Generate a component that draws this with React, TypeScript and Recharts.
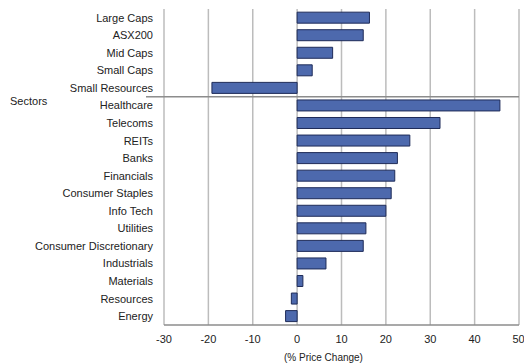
import { BarChart, Bar, XAxis, YAxis, CartesianGrid, ReferenceLine } from "recharts";

const categories = [
  "Large Caps",
  "ASX200",
  "Mid Caps",
  "Small Caps",
  "Small Resources",
  "Healthcare",
  "Telecoms",
  "REITs",
  "Banks",
  "Financials",
  "Consumer Staples",
  "Info Tech",
  "Utilities",
  "Consumer Discretionary",
  "Industrials",
  "Materials",
  "Resources",
  "Energy"
];

const priceChange = [16.3, 14.9, 8.0, 3.4, -19.2, 45.7, 32.2, 25.4, 22.6, 22.0, 21.2, 20.0, 15.5, 14.9, 6.5, 1.3, -1.3, -2.6];

const xTicks = [-30, -20, -10, 0, 10, 20, 30, 40, 50];

const data = categories.map((name, i) => ({ name, value: priceChange[i] }));

const font = "'Liberation Sans', Arial, sans-serif";

function SectorsLabel(props: any) {
  const { viewBox } = props;
  const x = viewBox.x;
  const y = viewBox.y;
  return (
    <g>
      <line x1={x - 18} y1={y} x2={x} y2={y} stroke="#8c8c8c" strokeWidth={1.5} />
      <text x={10} y={y + 8} fontSize={11} fontFamily={font} fill="#222">
        Sectors
      </text>
    </g>
  );
}

export default function App() {
  return (
    <div style={{ position: "absolute", left: 0, top: 0, background: "#fff" }}>
      <BarChart
        width={524}
        height={364}
        data={data}
        layout="vertical"
        margin={{ top: 9, right: 5, bottom: 0, left: 0 }}
        barCategoryGap="18%"
      >
        <CartesianGrid horizontal={false} stroke="#bcbcbc" strokeWidth={1.5} />
        <XAxis
          type="number"
          domain={[-30, 50]}
          ticks={xTicks}
          height={39}
          tickLine={false}
          tickSize={6}
          tickMargin={4}
          axisLine={{ stroke: "#8c8c8c", strokeWidth: 1.5 }}
          tick={{ fontSize: 11, fill: "#222", fontFamily: font }}
          label={{
            value: "(% Price Change)",
            position: "insideBottom",
            offset: 3,
            dx: -18,
            fontSize: 10,
            fill: "#222",
            fontFamily: font
          }}
        />
        <YAxis
          type="category"
          dataKey="name"
          width={164}
          interval={0}
          tickLine={false}
          axisLine={false}
          tickSize={6}
          tickMargin={5}
          tick={{ fontSize: 11, fill: "#222", fontFamily: font }}
        />
        <ReferenceLine
          y="Healthcare"
          position="start"
          stroke="#8c8c8c"
          strokeWidth={1.5}
          ifOverflow="visible"
          label={<SectorsLabel />}
        />
        <Bar dataKey="value" fill="#4d69ad" stroke="#1e2b58" strokeWidth={1} isAnimationActive={false} />
      </BarChart>
    </div>
  );
}
